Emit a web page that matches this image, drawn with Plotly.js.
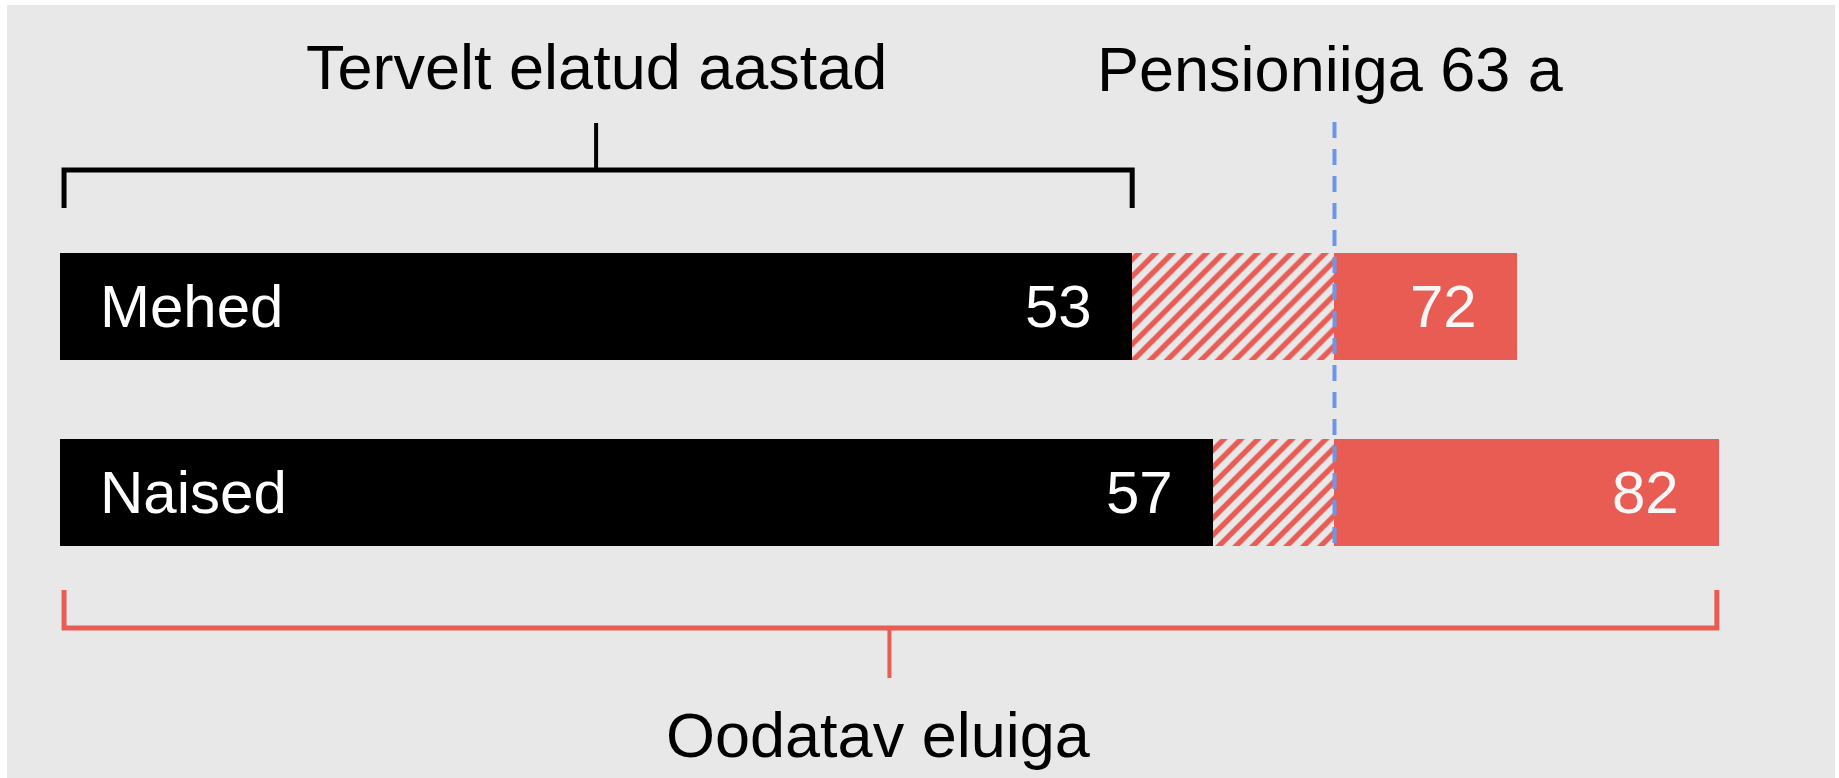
<!DOCTYPE html>
<html>
<head>
<meta charset="utf-8">
<script src="https://cdn.plot.ly/plotly-3.0.1.min.js"></script>
<style>
  html, body { margin: 0; padding: 0; background: #ffffff; }
  #chart { width: 1839px; height: 778px; }
</style>
</head>
<body>
<div id="chart"></div>
<script>
// ---- data ----
const groups = ['Mehed', 'Naised'];
const healthyYears = [53, 57];
const pensionAge = 63;
const lifeExpectancy = [72, 82];
const healthyLabel = 'Tervelt elatud aastad';
const pensionLabel = 'Pensioniiga 63 a';
const lifeLabel = 'Oodatav eluiga';

// ---- style ----
const W = 1839, H = 778;
const BG = '#e8e8e8';
const RED = '#e95c54';
const BLUE = '#6b97e8';
const FONT = '"Liberation Sans", Arial, Helvetica, sans-serif';
const px2paperY = p => 1 - p / H;
const px2paperX = p => p / W;

const gapToPension = healthyYears.map(v => pensionAge - v);
const afterPension = lifeExpectancy.map(v => v - pensionAge);
const barWidth = 0.575;

const traces = [
  {
    type: 'bar', orientation: 'h', y: groups, x: healthyYears,
    width: barWidth, marker: { color: '#000000', line: { width: 0 } },
    hoverinfo: 'skip'
  },
  {
    type: 'bar', orientation: 'h', y: groups, x: gapToPension,
    width: barWidth,
    marker: {
      color: BG, line: { width: 0 },
      pattern: { shape: '/', fgcolor: RED, bgcolor: BG, size: 12, solidity: 0.45,
                 fillmode: 'replace', fgopacity: 1 }
    },
    hoverinfo: 'skip'
  },
  {
    type: 'bar', orientation: 'h', y: groups, x: afterPension,
    width: barWidth, marker: { color: RED, line: { width: 0 } },
    hoverinfo: 'skip'
  }
];

const annotations = [];
groups.forEach((g, i) => {
  annotations.push({
    x: 0, y: g, xref: 'x', yref: 'y', text: g, showarrow: false,
    xanchor: 'left', yanchor: 'middle', xshift: 38,
    font: { family: FONT, size: 60, color: '#ffffff' }
  });
  annotations.push({
    x: healthyYears[i], y: g, xref: 'x', yref: 'y', text: String(healthyYears[i]), showarrow: false,
    xanchor: 'right', yanchor: 'middle', xshift: -38,
    font: { family: FONT, size: 60, color: '#ffffff' }
  });
  annotations.push({
    x: lifeExpectancy[i], y: g, xref: 'x', yref: 'y', text: String(lifeExpectancy[i]), showarrow: false,
    xanchor: 'right', yanchor: 'middle', xshift: -38,
    font: { family: FONT, size: 60, color: '#f7f7f7' }
  });
});

const maxHealthyMen = healthyYears[0];
const maxLife = Math.max(...lifeExpectancy);

annotations.push({
  x: maxHealthyMen / 2, y: px2paperY(67), xref: 'x', yref: 'paper', text: healthyLabel,
  showarrow: false, xanchor: 'center', yanchor: 'middle',
  font: { family: FONT, size: 63, color: '#000000' }
});
annotations.push({
  x: pensionAge, y: px2paperY(69), xref: 'x', yref: 'paper', text: pensionLabel,
  showarrow: false, xanchor: 'center', yanchor: 'middle', xshift: -4,
  font: { family: FONT, size: 63, color: '#000000' }
});
annotations.push({
  x: maxLife / 2, y: px2paperY(735), xref: 'x', yref: 'paper', text: lifeLabel,
  showarrow: false, xanchor: 'center', yanchor: 'middle', xshift: -11,
  font: { family: FONT, size: 63, color: '#000000' }
});

const shapes = [
  // background panel
  { type: 'rect', xref: 'paper', yref: 'paper', x0: px2paperX(7), x1: px2paperX(1835),
    y0: 0, y1: px2paperY(5), fillcolor: BG, line: { width: 0 }, layer: 'below' },
  // healthy-years bracket (black)
  { type: 'path', xref: 'x', yref: 'paper', layer: 'above',
    path: `M 0.2,${px2paperY(208)} L 0.2,${px2paperY(170)} L ${maxHealthyMen},${px2paperY(170)} L ${maxHealthyMen},${px2paperY(208)}`,
    line: { color: '#000000', width: 5 } },
  { type: 'line', xref: 'x', yref: 'paper', x0: maxHealthyMen / 2, x1: maxHealthyMen / 2,
    y0: px2paperY(170), y1: px2paperY(123), line: { color: '#000000', width: 4 } },
  // life expectancy bracket (red)
  { type: 'path', xref: 'x', yref: 'paper', layer: 'above',
    path: `M 0.2,${px2paperY(590)} L 0.2,${px2paperY(628)} L ${maxLife - 0.1},${px2paperY(628)} L ${maxLife - 0.1},${px2paperY(590)}`,
    line: { color: RED, width: 5 } },
  { type: 'line', xref: 'x', yref: 'paper', x0: maxLife / 2, x1: maxLife / 2,
    y0: px2paperY(628), y1: px2paperY(678), line: { color: RED, width: 4 } },
  // pension age dashed line
  { type: 'line', xref: 'x', yref: 'paper', x0: pensionAge, x1: pensionAge,
    y0: px2paperY(122), y1: px2paperY(547), layer: 'above',
    line: { color: BLUE, width: 4, dash: '16px,11px' } }
];

const k = 20.23; // px per year
const layout = {
  width: W, height: H,
  margin: { l: 0, r: 0, t: 0, b: 0, pad: 0 },
  paper_bgcolor: '#ffffff',
  plot_bgcolor: 'rgba(0,0,0,0)',
  barmode: 'stack',
  bargap: 0,
  showlegend: false,
  xaxis: { range: [-60 / k, (W - 60) / k], visible: false, fixedrange: true },
  yaxis: { type: 'category', categoryarray: groups, range: [(H - 306.7) / 186, -306.7 / 186],
           visible: false, fixedrange: true },
  annotations: annotations,
  shapes: shapes,
  hovermode: false,
  font: { family: FONT }
};

Plotly.newPlot('chart', traces, layout, { staticPlot: true, displayModeBar: false });
</script>
</body>
</html>
